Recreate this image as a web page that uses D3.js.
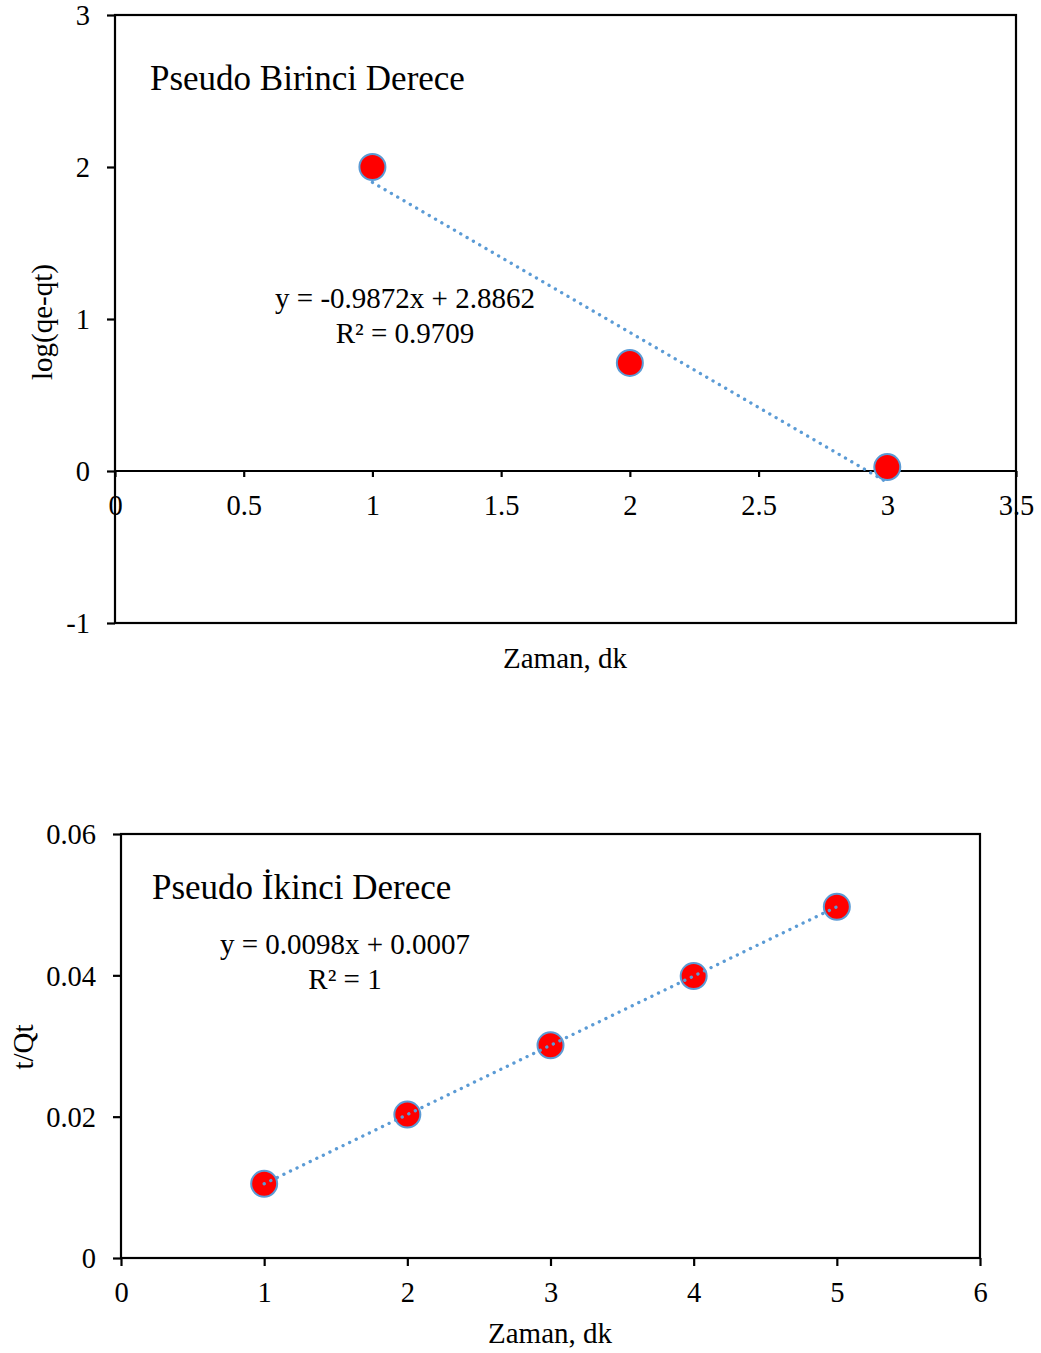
<!DOCTYPE html>
<html>
<head>
<meta charset="utf-8">
<script src="https://cdn.jsdelivr.net/npm/d3@7"></script>
<style>
  html, body { margin: 0; padding: 0; background: #ffffff; }
  svg { display: block; }
  text { font-family: "Liberation Serif", "Times New Roman", serif; fill: #000; }
</style>
</head>
<body>
<div id="chart"></div>
<script>
// Pseudo first order kinetics: log(qe-qt) vs time
const firstTime = [1, 2, 3];
const firstLogQ = [2.0, 0.711, 0.0256];
const firstFit = { slope: -0.9872, intercept: 2.8862, r2: "0.9709" };
const firstXTicks = [0, 0.5, 1, 1.5, 2, 2.5, 3, 3.5];
const firstYTicks = [-1, 0, 1, 2, 3];

// Pseudo second order kinetics: t/Qt vs time
const secondTime = [1, 2, 3, 4, 5];
const secondTQ = [0.0105, 0.0203, 0.0301, 0.0399, 0.0497];
const secondFit = { slope: 0.0098, intercept: 0.0007, r2: "1" };
const secondXTicks = [0, 1, 2, 3, 4, 5, 6];
const secondYTicks = [0, 0.02, 0.04, 0.06];

const W = 1041, H = 1353;
const svg = d3.select("#chart").append("svg").attr("width", W).attr("height", H);

const TICK_FONT = 28.5, LABEL_FONT = 29, TITLE_FONT = 35;
const LINE_BLUE = "#5b9bd5";

function drawPanel(cfg) {
  const g = svg.append("g");
  const x = d3.scaleLinear().domain(cfg.xDomain).range([cfg.left, cfg.right]);
  const y = d3.scaleLinear().domain(cfg.yDomain).range([cfg.bottom, cfg.top]);
  const xAxisY = y(cfg.xAxisAt);

  // plot frame
  g.append("rect")
    .attr("x", cfg.left).attr("y", cfg.top)
    .attr("width", cfg.right - cfg.left).attr("height", cfg.bottom - cfg.top)
    .attr("fill", "none").attr("stroke", "#000").attr("stroke-width", 2.2);

  // y axis ticks and labels
  const yAxis = g.append("g")
    .attr("transform", `translate(${cfg.left},0)`)
    .call(d3.axisLeft(y).tickValues(cfg.yTicks).tickSize(8).tickSizeOuter(0)
      .tickPadding(17).tickFormat(cfg.yFormat));
  yAxis.select(".domain").remove();
  yAxis.selectAll(".tick line").attr("stroke", "#000").attr("stroke-width", 2.2);
  yAxis.selectAll(".tick text")
    .style("font-family", '"Liberation Serif", "Times New Roman", serif')
    .style("font-size", TICK_FONT + "px").attr("fill", "#000").attr("dy", "0.34em");

  // x axis ticks and labels
  const xAxis = g.append("g")
    .attr("transform", `translate(0,${xAxisY})`)
    .call(d3.axisBottom(x).tickValues(cfg.xTicks).tickSize(cfg.xTickSize).tickSizeOuter(0)
      .tickPadding(0).tickFormat(cfg.xFormat));
  xAxis.select(".domain").attr("stroke", "#000").attr("stroke-width", 2.2)
    .attr("d", `M${cfg.left},0H${cfg.right}`);
  xAxis.selectAll(".tick line").attr("stroke", "#000").attr("stroke-width", 2.2);
  xAxis.selectAll(".tick text")
    .style("font-family", '"Liberation Serif", "Times New Roman", serif')
    .style("font-size", TICK_FONT + "px").attr("fill", "#000")
    .attr("y", 44).attr("dy", 0);

  // markers
  g.selectAll("circle.pt").data(cfg.xs.map((v, i) => [v, cfg.ys[i]])).join("circle")
    .attr("class", "pt")
    .attr("cx", d => x(d[0])).attr("cy", d => y(d[1])).attr("r", 13)
    .attr("fill", "#ff0000").attr("stroke", LINE_BLUE).attr("stroke-width", 2);

  // trendline (linear fit over the data range), drawn over the markers
  const xs = d3.extent(cfg.xs);
  const fitPts = xs.map(v => [v, cfg.fit.slope * v + cfg.fit.intercept]);
  g.append("path")
    .attr("d", d3.line().x(d => x(d[0])).y(d => y(d[1]))(fitPts))
    .attr("fill", "none").attr("stroke", LINE_BLUE).attr("stroke-width", 3.3)
    .attr("stroke-linecap", "round").attr("stroke-dasharray", "0.1 7.2");

  // chart title inside plot area
  g.append("text").attr("x", cfg.titleX).attr("y", cfg.titleY)
    .style("font-size", TITLE_FONT + "px").text(cfg.title);

  // fit equation
  const sign = cfg.fit.intercept < 0 ? "-" : "+";
  g.append("text").attr("x", cfg.eqX).attr("y", cfg.eqY).attr("text-anchor", "middle")
    .style("font-size", LABEL_FONT + "px")
    .text(`y = ${cfg.fit.slope.toFixed(4)}x ${sign} ${Math.abs(cfg.fit.intercept).toFixed(4)}`);
  g.append("text").attr("x", cfg.eqX).attr("y", cfg.eqY + 35).attr("text-anchor", "middle")
    .style("font-size", LABEL_FONT + "px").text(`R² = ${cfg.fit.r2}`);

  // axis titles
  g.append("text").attr("x", cfg.xTitleX).attr("y", cfg.xTitleY).attr("text-anchor", "middle")
    .style("font-size", LABEL_FONT + "px").text(cfg.xTitle);
  g.append("text").attr("transform", `translate(${cfg.yTitleX},${cfg.yTitleY}) rotate(-90)`)
    .attr("text-anchor", "middle").style("font-size", LABEL_FONT + "px").text(cfg.yTitle);
}

drawPanel({
  xs: firstTime, ys: firstLogQ, fit: firstFit,
  xDomain: [0, 3.5], yDomain: [-1, 3],
  left: 115, right: 1016, top: 15, bottom: 623,
  xAxisAt: 0, xTickSize: 6,
  xTicks: firstXTicks, yTicks: firstYTicks,
  xFormat: d => String(d), yFormat: d => String(d),
  title: "Pseudo Birinci Derece", titleX: 150, titleY: 90,
  eqX: 405, eqY: 308,
  xTitle: "Zaman, dk", xTitleX: 565, xTitleY: 668,
  yTitle: "log(qe-qt)", yTitleX: 52, yTitleY: 322
});

drawPanel({
  xs: secondTime, ys: secondTQ, fit: secondFit,
  xDomain: [0, 6], yDomain: [0, 0.06],
  left: 121, right: 980, top: 834, bottom: 1258,
  xAxisAt: 0, xTickSize: 8,
  xTicks: secondXTicks, yTicks: secondYTicks,
  xFormat: d => String(d), yFormat: d => (d === 0 ? "0" : d.toFixed(2)),
  title: "Pseudo İkinci Derece", titleX: 152, titleY: 899,
  eqX: 345, eqY: 954,
  xTitle: "Zaman, dk", xTitleX: 550, xTitleY: 1343,
  yTitle: "t/Qt", yTitleX: 33, yTitleY: 1047
});
</script>
</body>
</html>
